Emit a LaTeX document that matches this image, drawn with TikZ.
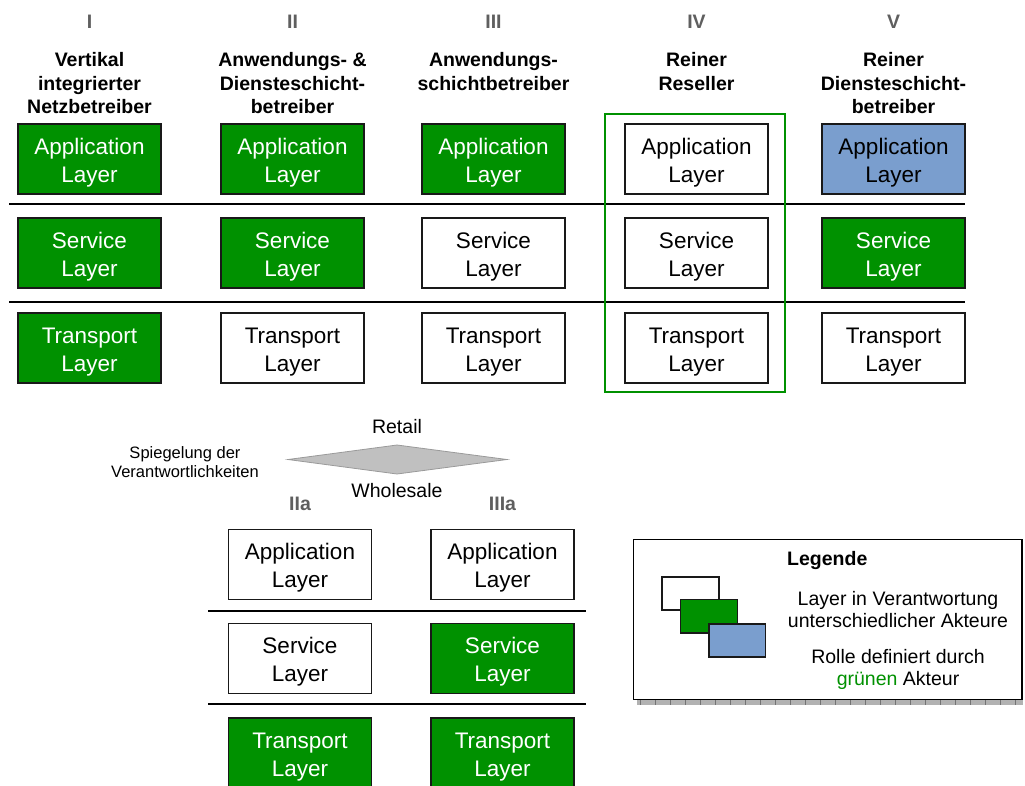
\documentclass[tikz,border=0pt]{standalone}
\usepackage{fontspec}
\setmainfont{Liberation Sans}
\definecolor{dgreen}{RGB}{0,145,0}
\definecolor{lblue}{RGB}{122,158,206}
\definecolor{numgray}{RGB}{95,95,95}
\definecolor{diagray}{RGB}{192,192,192}
\newcommand\lbfont{\fontsize{22.5}{28}\selectfont}
\newcommand\hdfont{\fontsize{19.5}{23.5}\selectfont\bfseries}
\newcommand\lgfont{\fontsize{19.5}{22}\selectfont}
\newcommand\smfont{\fontsize{16.5}{19}\selectfont}
\newcommand\twol[2]{\rule{0pt}{23pt}#1\\#2}
\tikzset{
  lay/.style={draw=black!90, line width=1.4, minimum width=143, minimum height=70, inner sep=0, align=center, font=\lbfont},
  gr/.style={lay, fill=dgreen, text=white},
  wh/.style={lay, fill=white, text=black},
  bl/.style={lay, fill=lblue, text=black},
  hdr/.style={align=center, inner sep=0, font=\hdfont},
  num/.style={inner sep=0, font=\hdfont, text=numgray},
  sep/.style={line width=1.4, black},
  txt/.style={align=center, inner sep=0},
}
\begin{document}
\begin{tikzpicture}[x=1pt,y=-1pt]
\useasboundingbox (0,0) rectangle (1025,785);
% separators top
\draw[sep] (9,204) -- (965,204);
\draw[sep] (9,302) -- (965,302);
% roman numerals
\node[num] (nI) at (89.5,22) {I};
\node[num] (nII) at (292.5,22) {II};
\node[num] (nIII) at (493.5,22) {III};
\node[num] (nIV) at (696.5,22) {IV};
\node[num] (nV) at (893.5,22) {V};
% headers
\node[hdr] (hI) at (89.5,83.5) {Vertikal\\integrierter\\Netzbetreiber};
\node[hdr] (hII) at (292.5,83.5) {Anwendungs- \&\\Diensteschicht-\\betreiber};
\node[hdr] (hIII) at (493.5,71.5) {Anwendungs-\\schichtbetreiber};
\node[hdr] (hIV) at (696.5,71.5) {Reiner\\Reseller};
\node[hdr] (hV) at (893.5,83.5) {Reiner\\Diensteschicht-\\betreiber};
% green frame
\draw[dgreen, line width=1.2] (605,114) rectangle (785,392);
% column I
\node[gr] (aI) at (89.5,159) {\twol{Application}{Layer}};
\node[gr] (sI) at (89.5,253) {\twol{Service}{Layer}};
\node[gr] (tI) at (89.5,348) {\twol{Transport}{Layer}};
% column II
\node[gr] (aII) at (292.5,159) {\twol{Application}{Layer}};
\node[gr] (sII) at (292.5,253) {\twol{Service}{Layer}};
\node[wh] (tII) at (292.5,348) {\twol{Transport}{Layer}};
% column III
\node[gr] (aIII) at (493.5,159) {\twol{Application}{Layer}};
\node[wh] (sIII) at (493.5,253) {\twol{Service}{Layer}};
\node[wh] (tIII) at (493.5,348) {\twol{Transport}{Layer}};
% column IV
\node[wh] (aIV) at (696.5,159) {\twol{Application}{Layer}};
\node[wh] (sIV) at (696.5,253) {\twol{Service}{Layer}};
\node[wh] (tIV) at (696.5,348) {\twol{Transport}{Layer}};
% column V
\node[bl] (aV) at (893.5,159) {\twol{Application}{Layer}};
\node[gr] (sV) at (893.5,253) {\twol{Service}{Layer}};
\node[wh] (tV) at (893.5,348) {\twol{Transport}{Layer}};
% mirror
\node[txt, font=\lgfont] (retail) at (397,427) {Retail};
\draw[diagray!80!black, fill=diagray, line width=0.8] (288,459.5) -- (397,445) -- (507,459.5) -- (397,474) -- cycle;
\node[txt, font=\lgfont] (wholesale) at (397,491) {Wholesale};
\node[txt, font=\smfont] (spieg) at (185,462) {Spiegelung der\\Verantwortlichkeiten};
% bottom section
\node[num] (nIIa) at (300,504) {IIa};
\node[num] (nIIIa) at (502.5,504) {IIIa};
\draw[sep] (208,611) -- (586,611);
\draw[sep] (208,704) -- (586,704);
\node[wh] (aIIa) at (300,564.5) {\twol{Application}{Layer}};
\node[wh] (sIIa) at (300,658.5) {\twol{Service}{Layer}};
\node[gr] (tIIa) at (300,753) {\twol{Transport}{Layer}};
\node[wh] (aIIIa) at (502.5,564.5) {\twol{Application}{Layer}};
\node[gr] (sIIIa) at (502.5,658.5) {\twol{Service}{Layer}};
\node[gr] (tIIIa) at (502.5,753) {\twol{Transport}{Layer}};
% legend
\fill[black!30] (637,699.5) rectangle (1023,705);
\foreach \k in {0,...,25} {\draw[black!55, line width=0.6] (640+15*\k,699.5) -- (640+15*\k,705);}
\draw[black, line width=1.4, fill=white] (633.5,539.5) rectangle (1022,699.5);
\draw[black!90, line width=1.3, fill=white] (662,577) rectangle (719,610);
\draw[black!90, line width=1.3, fill=dgreen] (680.5,599.5) rectangle (737.5,633);
\draw[black!90, line width=1.3, fill=lblue] (709,624) rectangle (765.5,657);
\node[inner sep=0, anchor=west, font=\lgfont\bfseries] (leg) at (787,560) {Legende};
\node[txt, font=\lgfont] (leg1) at (898,609.5) {Layer in Verantwortung\\unterschiedlicher Akteure};
\node[txt, font=\lgfont] (leg2) at (898,669.5) {Rolle definiert durch\\\textcolor{dgreen}{grünen} Akteur};
\end{tikzpicture}
\end{document}
